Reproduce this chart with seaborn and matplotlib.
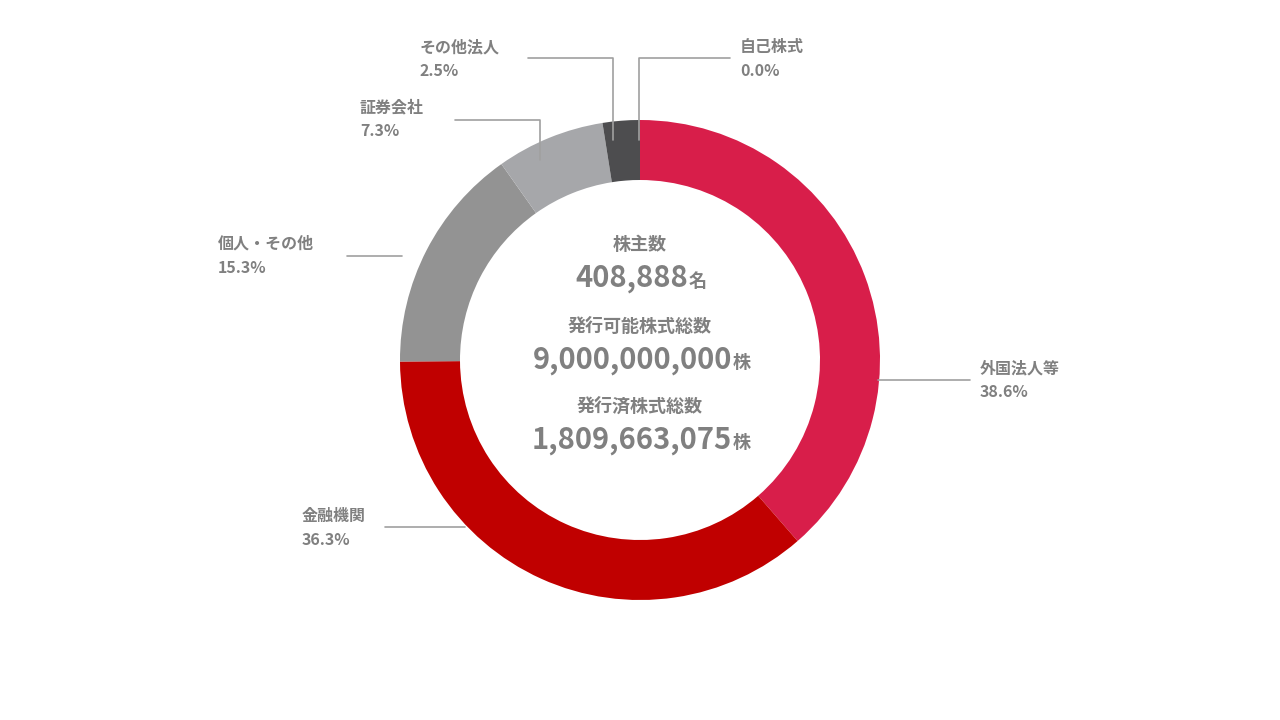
import matplotlib
matplotlib.use("Agg")
import matplotlib.pyplot as plt
import seaborn as sns

sns.set_theme(style="white")
plt.rcParams["font.family"] = "Noto Sans CJK JP"

categories = ["外国法人等", "金融機関", "個人・その他", "証券会社", "その他法人", "自己株式"]
values = [38.6, 36.3, 15.3, 7.3, 2.5, 0.0]
colors = ["#D81E4A", "#C00000", "#939393", "#A6A7AA", "#4D4D4F", "#333333"]
pct_labels = ["38.6%", "36.3%", "15.3%", "7.3%", "2.5%", "0.0%"]

fig = plt.figure(figsize=(12.8, 7.2), dpi=100)
ax = fig.add_axes([0, 0, 1, 1])
ax.set_xlim(0, 1280)
ax.set_ylim(0, 720)
ax.axis("off")

def Y(py):
    return 720 - py

ax.pie(values, colors=colors, startangle=90, counterclock=False,
       center=(640, Y(360)), radius=240, wedgeprops=dict(width=60, linewidth=0),
       frame=True)
ax.set_xlim(0, 1280); ax.set_ylim(0, 720); ax.axis("off"); ax.set_aspect("auto")

gray = "#808080"
lc = "#A0A0A0"
# leader lines (pixel coords)
lines = [
    [(878, 380), (970, 380)],
    [(465, 527), (385, 527)],
    [(402, 256), (347, 256)],
    [(540, 160), (540, 120), (455, 120)],
    [(613, 140), (613, 58), (528, 58)],
    [(639, 140), (639, 58), (730, 58)],
]
text_pos = [(980, 368), (302, 516), (218, 244), (360, 107), (420, 47), (740, 47)]
for seg, (tx, ty), name, pct in zip(lines, text_pos, categories, pct_labels):
    ax.plot([p[0] for p in seg], [Y(p[1]) for p in seg], color=lc, lw=1.2)
    ax.text(tx, Y(ty), name, color=gray, fontsize=11.5, fontweight="bold", va="center", ha="left")
    ax.text(tx, Y(ty + 24), pct, color=gray, fontsize=11.5, fontweight="bold", va="center", ha="left")

center_rows = [("株主数", "408,888", "名", 244, 688),
               ("発行可能株式総数", "9,000,000,000", "株", 326, 732),
               ("発行済株式総数", "1,809,663,075", "株", 406, 732)]
for title, num, suf, ty, xr in center_rows:
    ax.text(640, Y(ty), title, color=gray, fontsize=13, fontweight="bold", ha="center", va="center")
    ax.text(xr, Y(ty + 34), num, color=gray, fontsize=21, fontweight="bold", ha="right", va="center")
    ax.text(xr + 1, Y(ty + 37), suf, color=gray, fontsize=13, fontweight="bold", ha="left", va="center")

fig.savefig("out.png", dpi=100, facecolor="white")
